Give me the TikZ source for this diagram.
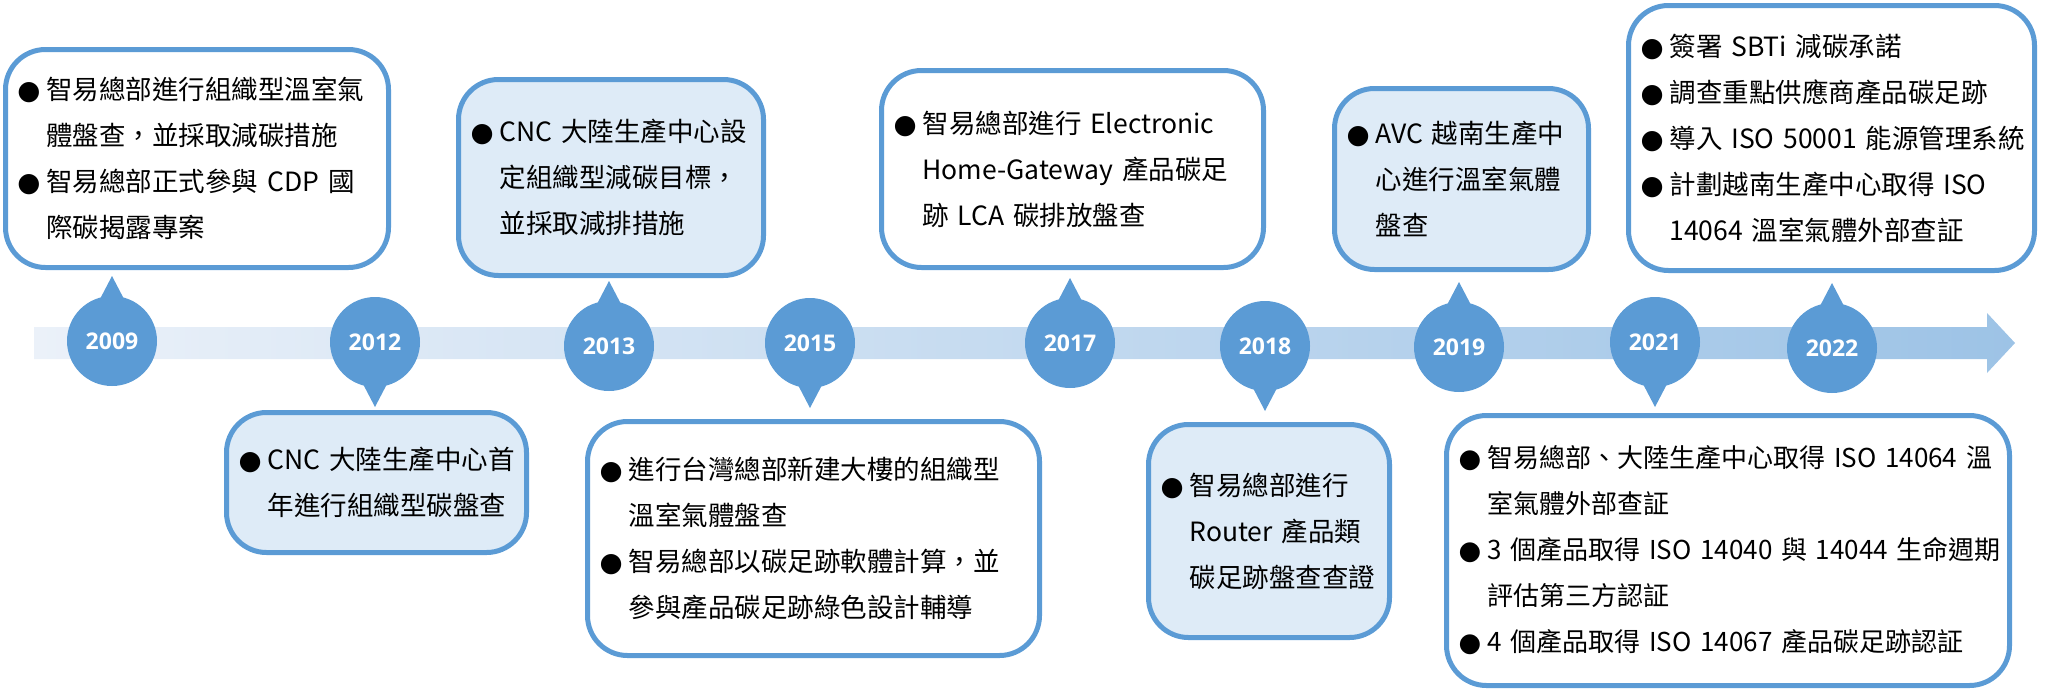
\documentclass[tikz,border=0pt]{standalone}
\usepackage{fontspec}
\setmainfont{Noto Sans CJK TC}[Script=CJK, Language=Chinese Traditional]
\newfontfamily\symfont{DejaVu Sans}
\newfontfamily\yearfont{Open Sans}
\usepackage{tikz}

\definecolor{lineblue}{HTML}{5B9BD5}
\definecolor{paleblue}{HTML}{DEEBF7}
\definecolor{barlight}{HTML}{EBF1F9}
\definecolor{bardark}{HTML}{9DC3E6}

\newcommand{\bul}{\makebox[14.5pt][l]{\symfont ●}}
\newcommand{\hang}{\hspace*{14.5pt}}

\begin{document}
\begin{tikzpicture}[x=0.5pt,y=-0.5pt,
	yearball/.style={circle, fill=lineblue, minimum size=45pt, inner sep=0pt, text=white, font=\yearfont\bfseries\fontsize{11.5pt}{12pt}\selectfont},
	tailmark/.style={fill=lineblue},
	eventbox/.style={draw=lineblue, line width=2.5pt, rounded corners=20pt, inner xsep=6pt, inner ysep=0pt, align=left, font=\fontsize{13.25pt}{23pt}\selectfont}]

	% Frame %
	\useasboundingbox (0,0) rectangle (2045,691);
	% Time Line %
	\shade [left color=barlight, right color=bardark] (34,327) -- (1987,327) -- (1987,313) -- (2015,343) -- (1987,373) -- (1987,359) -- (34,359) -- cycle;
	% Years %
	\node (y2009) [yearball] at (112,341) {2009};
	\node (y2012) [yearball] at (375,342) {2012};
	\node (y2013) [yearball] at (609,346) {2013};
	\node (y2015) [yearball] at (810,343) {2015};
	\node (y2017) [yearball] at (1070,343) {2017};
	\node (y2018) [yearball] at (1265,346) {2018};
	\node (y2019) [yearball] at (1459,347) {2019};
	\node (y2021) [yearball] at (1655,342) {2021};
	\node (y2022) [yearball] at (1832,348) {2022};
	% Tails %
	\fill [tailmark] (y2009.center) ++(-12,-42) -- ++(12,-23) -- ++(12,23) -- cycle;
	\fill [tailmark] (y2012.center) ++(-12,42) -- ++(12,23) -- ++(12,-23) -- cycle;
	\fill [tailmark] (y2013.center) ++(-12,-42) -- ++(12,-23) -- ++(12,23) -- cycle;
	\fill [tailmark] (y2015.center) ++(-12,42) -- ++(12,23) -- ++(12,-23) -- cycle;
	\fill [tailmark] (y2017.center) ++(-12,-42) -- ++(12,-23) -- ++(12,23) -- cycle;
	\fill [tailmark] (y2018.center) ++(-12,42) -- ++(12,23) -- ++(12,-23) -- cycle;
	\fill [tailmark] (y2019.center) ++(-12,-42) -- ++(12,-23) -- ++(12,23) -- cycle;
	\fill [tailmark] (y2021.center) ++(-12,42) -- ++(12,23) -- ++(12,-23) -- cycle;
	\fill [tailmark] (y2022.center) ++(-12,-42) -- ++(12,-23) -- ++(12,23) -- cycle;
	% Events %
	\node (e2009) [eventbox, fill=white, text width=179.5pt, minimum height=109pt] at (197,158.5) {\bul 智易總部進行組織型溫室氣\\ \hang 體盤查，並採取減碳措施\\ \bul 智易總部正式參與~CDP~國\\ \hang 際碳揭露專案};
	\node (e2012) [eventbox, fill=paleblue, text width=138pt, minimum height=70pt] at (376.5,482.5) {\bul CNC~大陸生產中心首\\ \hang 年進行組織型碳盤查};
	\node (e2013) [eventbox, fill=paleblue, text width=140.5pt, minimum height=98pt] at (611,177.5) {\bul CNC~大陸生產中心設\\ \hang 定組織型減碳目標，\\ \hang 並採取減排措施};
	\node (e2015) [eventbox, fill=white, text width=214pt, minimum height=117pt] at (813.5,538.5) {\bul 進行台灣總部新建大樓的組織型\\ \hang 溫室氣體盤查\\ \bul 智易總部以碳足跡軟體計算，並\\ \hang 參與產品碳足跡綠色設計輔導};
	\node (e2017) [eventbox, fill=white, text width=179pt, minimum height=98.5pt] at (1072.5,169) {\bul 智易總部進行~Electronic\\ \hang Home-Gateway~產品碳足\\ \hang 跡~LCA~碳排放盤查};
	\node (e2018) [eventbox, fill=paleblue, text width=108.5pt, minimum height=106.5pt] at (1269,531) {\bul 智易總部進行\\ \hang Router~產品類\\ \hang 碳足跡盤查查證};
	\node (e2019) [eventbox, fill=paleblue, text width=115pt, minimum height=90.5pt] at (1461.5,179) {\bul AVC~越南生產中\\ \hang 心進行溫室氣體\\ \hang 盤查};
	\node (e2021) [eventbox, fill=white, text width=269.5pt, minimum height=135pt, font=\fontsize{13pt}{23pt}\selectfont] at (1728,550.5) {\bul 智易總部、大陸生產中心取得~ISO~14064~溫\\ \hang 室氣體外部查証\\ \bul 3~個產品取得~ISO~14040~與~14044~生命週期\\ \hang 評估第三方認証\\ \bul 4~個產品取得~ISO~14067~產品碳足跡認証};
	\node (e2022) [eventbox, fill=white, text width=191pt, minimum height=132.5pt] at (1831.5,138) {\bul 簽署~SBTi~減碳承諾\\ \bul 調查重點供應商產品碳足跡\\ \bul 導入~ISO~50001~能源管理系統\\ \bul 計劃越南生產中心取得~ISO\\ \hang 14064~溫室氣體外部查証};
\end{tikzpicture}
\end{document}
